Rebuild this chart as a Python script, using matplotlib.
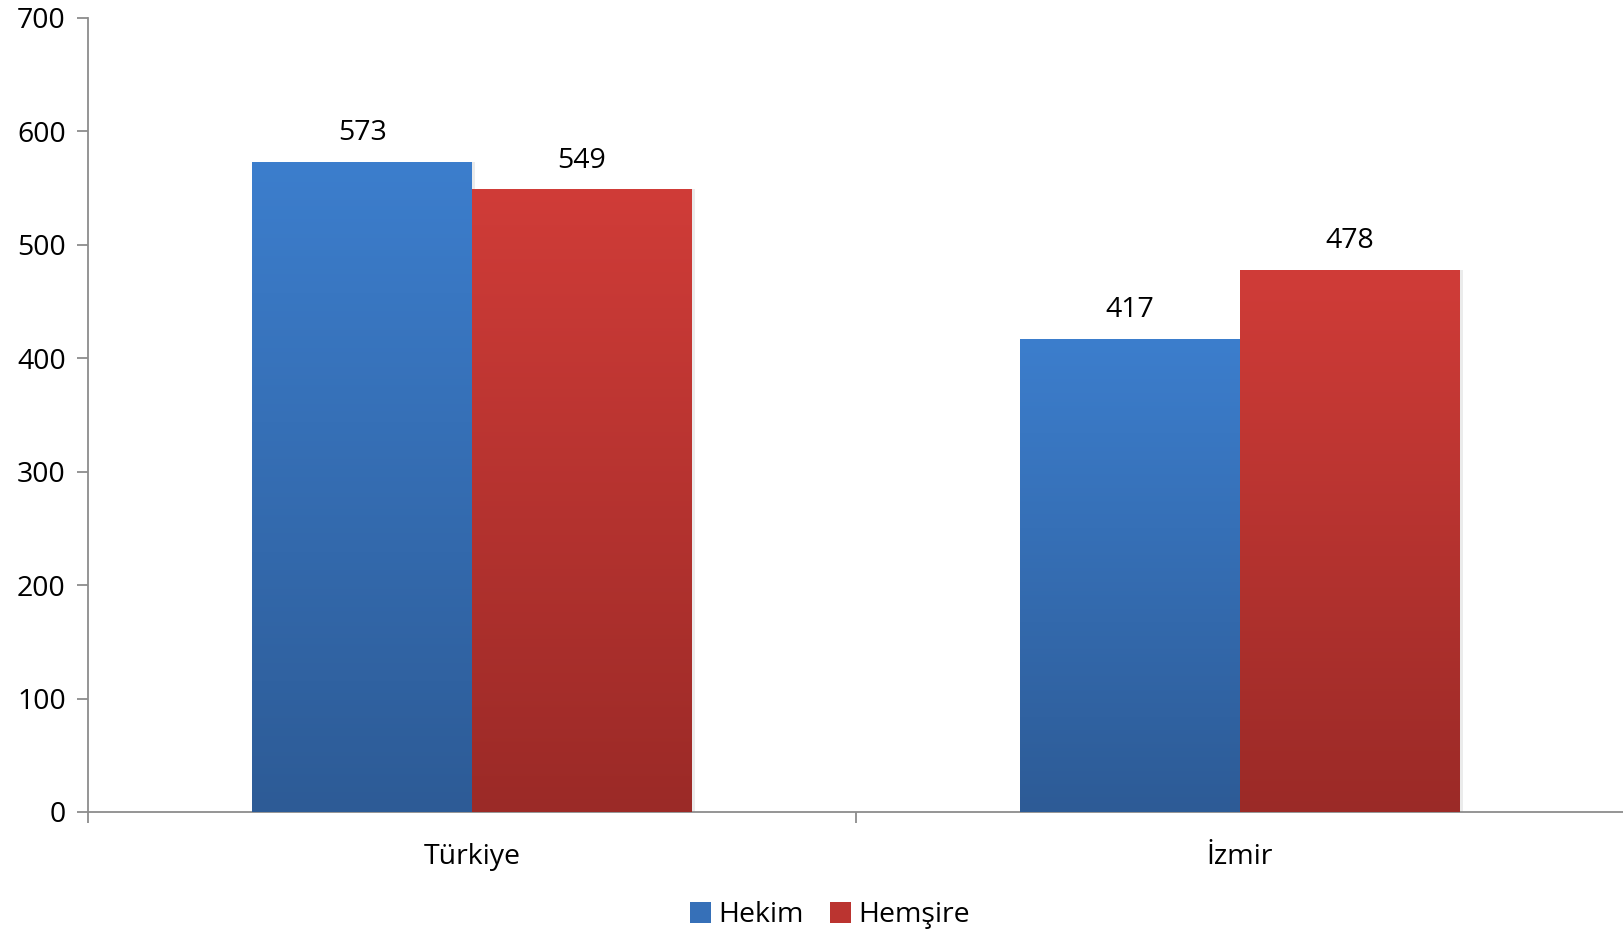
import numpy as np
import matplotlib
matplotlib.use("Agg")
import matplotlib.pyplot as plt
from matplotlib.colors import LinearSegmentedColormap
from matplotlib.patches import Patch

categories = ["Türkiye", "İzmir"]
series_names = ["Hekim", "Hemşire"]
hekim = [573, 417]
hemsire = [549, 478]

plt.rcParams["font.family"] = ["Open Sans", "DejaVu Sans"]

fig = plt.figure(figsize=(16.24, 9.36), dpi=100)
ax = fig.add_axes([0.0542, 0.1325, 0.9458, 0.8483])

grads = {
    "Hekim": ("#2d5b96", "#3c7ecd"),
    "Hemşire": ("#9b2a27", "#d03c38"),
}
bw = 0.286
x = np.arange(len(categories)) + 0.5
fs = 20.5

for vals, name, off in [(hekim, "Hekim", -bw / 2), (hemsire, "Hemşire", bw / 2)]:
    cmap = LinearSegmentedColormap.from_list(name, grads[name])
    bars = ax.bar(x + off, vals, width=bw, color="none", edgecolor="none", zorder=3)
    for b, v in zip(bars, vals):
        # soft shadow
        ax.bar(b.get_x() + b.get_width() / 2 + 0.004, v, width=bw, color="#000000",
               alpha=0.08, zorder=2)
        grad = np.linspace(0, 1, 256).reshape(-1, 1)
        im = ax.imshow(grad, cmap=cmap, origin="lower", aspect="auto",
                       extent=[b.get_x(), b.get_x() + b.get_width(), 0, v], zorder=3)
        im.set_clip_path(b)
        ax.text(b.get_x() + b.get_width() / 2, v + 13, str(v), ha="center",
                va="bottom", fontsize=fs)

ax.set_xlim(0, 2)
ax.set_ylim(0, 700)
ax.set_yticks(range(0, 701, 100))
ax.set_xticks([0, 1, 2])
ax.set_xticklabels([])
ax.set_xticks(x, minor=True)
ax.set_xticklabels(categories, minor=True)
ax.tick_params(axis="x", which="minor", length=0, pad=22, labelsize=fs)
ax.tick_params(axis="x", which="major", length=8, color="#8c8c8c", width=1.3)
ax.tick_params(axis="y", length=8, color="#8c8c8c", width=1.3, labelsize=fs, pad=8)

for s in ["top", "right"]:
    ax.spines[s].set_visible(False)
for s in ["left", "bottom"]:
    ax.spines[s].set_color("#8c8c8c")
    ax.spines[s].set_linewidth(1.3)

handles = [Patch(facecolor="#3670b8", label="Hekim"),
           Patch(facecolor="#bb3430", label="Hemşire")]
fig.legend(handles=handles, loc="center", bbox_to_anchor=(0.511, 0.022), ncol=2,
           frameon=False, fontsize=fs, handlelength=0.75, handleheight=0.75,
           handletextpad=0.25, columnspacing=0.9, borderpad=0)

fig.savefig("out.png", dpi=100)
